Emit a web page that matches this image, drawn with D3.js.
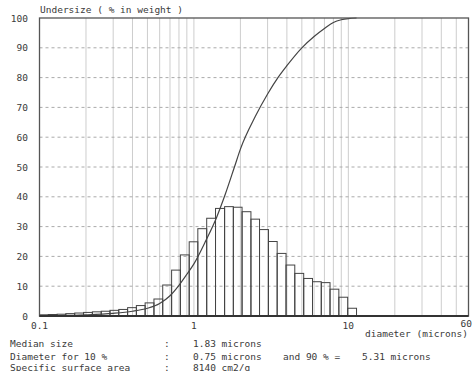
<!DOCTYPE html>
<html>
<head>
<meta charset="utf-8">
<script src="https://cdn.jsdelivr.net/npm/d3@7"></script>
<style>
	body { margin: 0; background: #fff; }
	text { font-family: "DejaVu Sans Mono", monospace; font-size: 9.5px; fill: #3a3a3a; }
</style>
</head>
<body>
<div id="chart"></div>
<script>
// histogram bins (microns) and their heights
const binEdges = [0.100, 0.114, 0.130, 0.148, 0.169, 0.193, 0.220, 0.251, 0.286, 0.326, 0.372, 0.424, 0.483, 0.551, 0.628, 0.717, 0.817, 0.932, 1.06, 1.21, 1.38, 1.58, 1.80, 2.05, 2.34, 2.66, 3.04, 3.46, 3.95, 4.50, 5.14, 5.86, 6.68, 7.61, 8.68, 9.90, 11.3]
const binValues = [0.4, 0.5, 0.6, 0.8, 1.0, 1.2, 1.4, 1.6, 1.9, 2.2, 2.8, 3.5, 4.4, 5.7, 10.4, 15.4, 20.5, 24.9, 29.3, 32.8, 36.1, 36.7, 36.5, 35.0, 32.5, 29.0, 25.0, 21.0, 17.1, 14.3, 12.6, 11.5, 11.2, 9.0, 6.3, 2.6]

// cumulative undersize curve
const cumSize = [0.1, 0.15, 0.2, 0.3, 0.4, 0.5, 0.6, 0.7, 0.8, 0.9, 1.0, 1.2, 1.4, 1.6, 1.83, 2.0, 2.5, 3.0, 3.5, 4.0, 5.0, 6.0, 7.0, 8.0, 9.0, 10.0, 11.3]
const cumPct = [0, 0.2, 0.4, 0.9, 1.6, 2.6, 4.2, 6.8, 10.3, 14, 17.5, 25.5, 33, 41, 50, 56, 67, 74.5, 80, 84, 90, 93.8, 96.5, 98.5, 99.4, 99.8, 100]

const yTicks = [0, 10, 20, 30, 40, 50, 60, 70, 80, 90, 100]
const xLabelTicks = [0.1, 1, 10]
const xLabelText = ["0.1", "1", "10"]
const xGrid = [0.2, 0.3, 0.4, 0.5, 0.6, 0.7, 0.8, 0.9, 1, 2, 3, 4, 5, 6, 7, 8, 9, 10, 20, 30, 40, 50]

const summaryLabels = ["Median size", "Diameter for 10 %", "Specific surface area"]
const summaryValues = ["1.83 microns", "0.75 microns", "8140 cm2/g"]
const summaryExtra = ["and 90 % =", "5.31 microns"]

const width = 472
const height = 371
const plotLeft = 39.5, plotRight = 468.5, plotTop = 18, plotBottom = 316

const x = d3.scaleLog().domain([0.1, 60]).range([plotLeft, plotRight])
const y = d3.scaleLinear().domain([0, 100]).range([plotBottom, plotTop])

const svg = d3.select("#chart").append("svg").attr("width", width).attr("height", height)

// grid
svg.append("g")
	.selectAll("line")
	.data(xGrid)
	.join("line")
	.attr("x1", d => x(d)).attr("x2", d => x(d))
	.attr("y1", plotTop).attr("y2", plotBottom)
	.attr("stroke", "#cdcdcd")
	.attr("stroke-width", 1)

svg.append("g")
	.selectAll("line")
	.data(yTicks.slice(1, -1))
	.join("line")
	.attr("x1", plotLeft).attr("x2", plotRight)
	.attr("y1", d => y(d)).attr("y2", d => y(d))
	.attr("stroke", "#aaa")
	.attr("stroke-dasharray", "3,3")

// histogram bars
const bins = binValues.map((v, i) => ({ x0: binEdges[i], x1: binEdges[i + 1], v }))
svg.append("g")
	.selectAll("rect")
	.data(bins)
	.join("rect")
	.attr("x", d => x(d.x0))
	.attr("width", d => x(d.x1) - x(d.x0))
	.attr("y", d => y(d.v))
	.attr("height", d => y(0) - y(d.v))
	.attr("fill", "none")
	.attr("stroke", "#444")
	.attr("stroke-width", 1)

// cumulative curve
const cumData = cumSize.map((s, i) => [s, cumPct[i]])
svg.append("path")
	.datum(cumData)
	.attr("fill", "none")
	.attr("stroke", "#444")
	.attr("stroke-width", 1.2)
	.attr("d", d3.line().curve(d3.curveMonotoneX).x(d => x(d[0])).y(d => y(d[1])))

// frame
svg.append("rect")
	.attr("x", plotLeft).attr("y", plotTop)
	.attr("width", plotRight - plotLeft).attr("height", plotBottom - plotTop)
	.attr("fill", "none")
	.attr("stroke", "#555")
	.attr("stroke-width", 1.3)
svg.append("line")
	.attr("x1", plotLeft).attr("x2", plotRight)
	.attr("y1", plotBottom).attr("y2", plotBottom)
	.attr("stroke", "#333")
	.attr("stroke-width", 2)

// axis labels
svg.append("g")
	.selectAll("text")
	.data(yTicks)
	.join("text")
	.attr("x", 28)
	.attr("y", d => y(d) + 3.5)
	.attr("text-anchor", "end")
	.text(d => d)

svg.append("g")
	.selectAll("text")
	.data(xLabelTicks)
	.join("text")
	.attr("x", d => x(d))
	.attr("y", 329)
	.attr("text-anchor", "middle")
	.text((d, i) => xLabelText[i])

svg.append("text").attr("x", 472).attr("y", 327).attr("text-anchor", "end").text("60")
svg.append("text").attr("x", 365).attr("y", 337).text("diameter (microns)")
svg.append("text").attr("x", 40).attr("y", 13).text("Undersize ( % in weight )")

// summary block
const rowY = [346.5, 360, 370.5]
summaryLabels.forEach((label, i) => {
	svg.append("text").attr("x", 10).attr("y", rowY[i]).text(label)
	svg.append("text").attr("x", 164).attr("y", rowY[i]).text(":")
	svg.append("text").attr("x", 193).attr("y", rowY[i]).text(summaryValues[i])
})
svg.append("text").attr("x", 283).attr("y", rowY[1]).text(summaryExtra[0])
svg.append("text").attr("x", 362).attr("y", rowY[1]).text(summaryExtra[1])
</script>
</body>
</html>
